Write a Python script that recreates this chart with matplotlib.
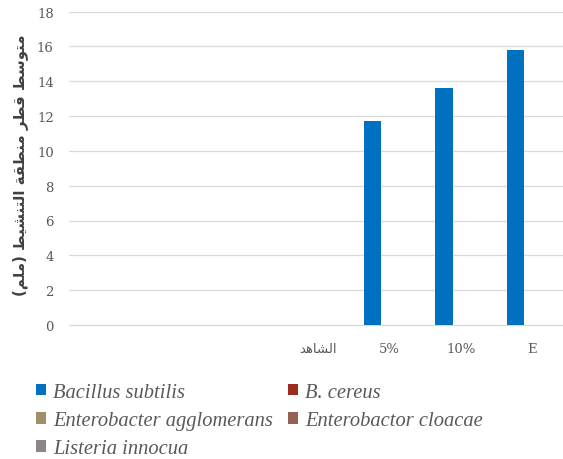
import matplotlib

matplotlib.use("Agg")
import matplotlib.pyplot as plt
from matplotlib.patches import Patch
import numpy as np


# Concentration groups along x; the first three slots carry no label
CATEGORIES = ["", "", "", "الشاهد", "5%", "10%", "E"]
SERIES_NAMES = [
    "Bacillus subtilis",
    "B. cereus",
    "Enterobacter agglomerans",
    "Enterobactor cloacae",
    "Listeria innocua",
]
BACILLUS_SUBTILIS = [0, 0, 0, 0, 11.7, 13.6, 15.8]
B_CEREUS = [0, 0, 0, 0, 0, 0, 0]
ENTEROBACTER_AGGLOMERANS = [0, 0, 0, 0, 0, 0, 0]
ENTEROBACTOR_CLOACAE = [0, 0, 0, 0, 0, 0, 0]
LISTERIA_INNOCUA = [0, 0, 0, 0, 0, 0, 0]
Y_TICKS = [0, 2, 4, 6, 8, 10, 12, 14, 16, 18]
Y_LABEL = "متوسط قطر منطقة التنشيط (ملم)"

COLORS = ["#0070C0", "#9B2B1F", "#A38E6A", "#946151", "#8D8488"]
TEXT_COLOR = "#595959"
GRID_COLOR = "#D9D9D9"

# Arabic presentation forms: isolated, final, initial, medial
ARABIC_FORMS = {
    "ا": ("\uFE8D", "\uFE8E", None, None),
    "ة": ("\uFE93", "\uFE94", None, None),
    "د": ("\uFEA9", "\uFEAA", None, None),
    "ر": ("\uFEAD", "\uFEAE", None, None),
    "و": ("\uFEED", "\uFEEE", None, None),
    "ت": ("\uFE95", "\uFE96", "\uFE97", "\uFE98"),
    "س": ("\uFEB1", "\uFEB2", "\uFEB3", "\uFEB4"),
    "ش": ("\uFEB5", "\uFEB6", "\uFEB7", "\uFEB8"),
    "ط": ("\uFEC1", "\uFEC2", "\uFEC3", "\uFEC4"),
    "ق": ("\uFED5", "\uFED6", "\uFED7", "\uFED8"),
    "ل": ("\uFEDD", "\uFEDE", "\uFEDF", "\uFEE0"),
    "م": ("\uFEE1", "\uFEE2", "\uFEE3", "\uFEE4"),
    "ن": ("\uFEE5", "\uFEE6", "\uFEE7", "\uFEE8"),
    "ه": ("\uFEE9", "\uFEEA", "\uFEEB", "\uFEEC"),
    "ي": ("\uFEF1", "\uFEF2", "\uFEF3", "\uFEF4"),
}


def shape_arabic(text: str) -> str:
    """Join Arabic letters and put them in visual (left-to-right) order."""
    shaped = []
    for i, ch in enumerate(text):
        forms = ARABIC_FORMS.get(ch)
        if forms is None:
            shaped.append(ch)
            continue
        prev = text[i - 1] if i > 0 else None
        nxt = text[i + 1] if i + 1 < len(text) else None
        joins_prev = prev in ARABIC_FORMS and ARABIC_FORMS[prev][2] is not None
        joins_next = forms[2] is not None and nxt in ARABIC_FORMS
        if joins_prev and joins_next:
            shaped.append(forms[3])
        elif joins_prev:
            shaped.append(forms[1])
        elif joins_next:
            shaped.append(forms[2])
        else:
            shaped.append(forms[0])
    visual = "".join(reversed(shaped))
    return visual.translate(str.maketrans("()", ")("))


def main() -> None:
    plt.rcParams["font.family"] = ["DejaVu Serif", "DejaVu Sans"]
    series = [
        BACILLUS_SUBTILIS,
        B_CEREUS,
        ENTEROBACTER_AGGLOMERANS,
        ENTEROBACTOR_CLOACAE,
        LISTERIA_INNOCUA,
    ]

    fig = plt.figure(figsize=(5.63, 4.60), dpi=100)
    W, H = 563, 460
    ax = fig.add_axes([69 / W, 1 - 326 / H, 499 / W, 313.5 / H])

    x = np.arange(len(CATEGORIES))
    width = 0.24
    for j, (values, color) in enumerate(zip(series, COLORS)):
        ax.bar(x + (j - 1) * width, values, width=width, color=color, linewidth=0, zorder=3)

    ax.set_xlim(-0.5, len(CATEGORIES) - 0.5)
    ax.set_ylim(0, 18)
    ax.set_yticks(Y_TICKS)
    ax.set_yticklabels([str(v) for v in Y_TICKS])
    ax.set_xticks(x)
    ax.set_xticklabels([shape_arabic(c) if c == "الشاهد" else c for c in CATEGORIES])
    for lab in ax.get_xticklabels():
        if lab.get_text() and lab.get_text()[0] >= "\uFB50":
            lab.set_fontfamily(["DejaVu Sans"])
            lab.set_fontsize(7.5)

    ax.grid(True, axis="y", color=GRID_COLOR, linewidth=0.9, zorder=0)
    for side in ("top", "right", "left"):
        ax.spines[side].set_visible(False)
    ax.spines["bottom"].set_color(GRID_COLOR)
    ax.spines["bottom"].set_linewidth(0.9)
    ax.tick_params(axis="both", length=0, colors=TEXT_COLOR, labelsize=9.5)
    ax.tick_params(axis="y", pad=11)
    ax.tick_params(axis="x", pad=12)

    fig.text(
        20 / W, 1 - 165 / H, shape_arabic(Y_LABEL),
        rotation=90, ha="center", va="center",
        fontsize=10.8, fontweight="bold", color="#404040",
        family=["DejaVu Sans"],
    )

    handles = [Patch(facecolor=c, edgecolor="none") for c in COLORS]
    order = [0, 2, 4, 1, 3]
    fig.legend(
        [handles[i] for i in order],
        [SERIES_NAMES[i] for i in order],
        loc="upper left",
        bbox_to_anchor=(36 / W, 1 - 384 / H),
        ncol=2,
        frameon=False,
        borderpad=0,
        borderaxespad=0,
        handlelength=0.48,
        handleheight=0.48,
        handletextpad=0.35,
        columnspacing=0.75,
        labelspacing=0.45,
        prop={"family": "Liberation Serif", "style": "italic", "size": 14.8},
        labelcolor=TEXT_COLOR,
    )

    fig.savefig("out.png", dpi=100)
    plt.close(fig)


if __name__ == "__main__":
    main()
